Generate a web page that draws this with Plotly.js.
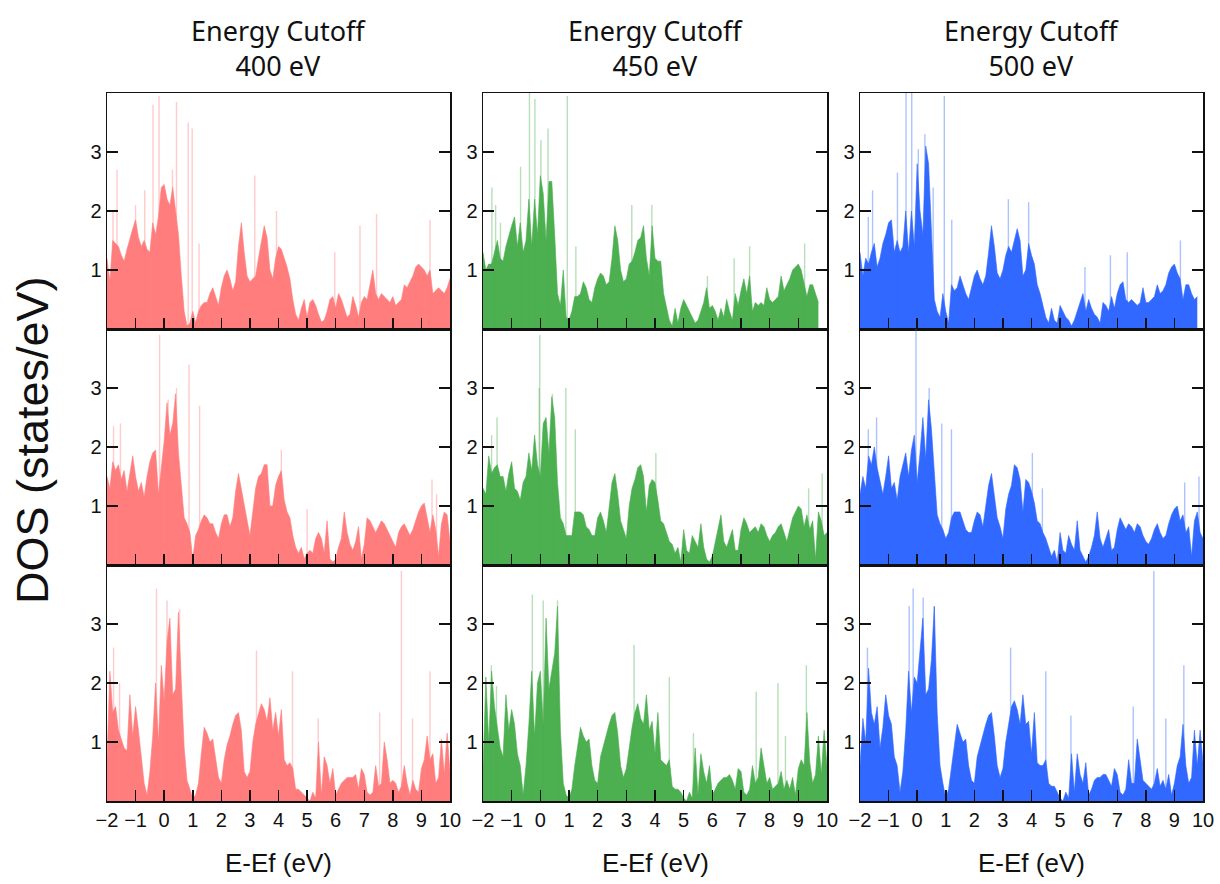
<!DOCTYPE html>
<html>
<head>
<meta charset="utf-8">
<script src="https://cdn.plot.ly/plotly-3.0.1.min.js"></script>
<style>html,body{margin:0;padding:0;background:#fff;}#chart{width:1220px;height:884px;}</style>
</head>
<body>
<div id="chart"></div>
<script>
// Energy grid (E - Ef, eV)
const energy = [-2.0,-1.9,-1.8,-1.7,-1.6,-1.5,-1.4,-1.3,-1.2,-1.1,
  -1.0,-0.9,-0.8,-0.7,-0.6,-0.5,-0.4,-0.3,-0.2,-0.1,
  0.0,0.1,0.2,0.3,0.4,0.5,0.6,0.7,0.8,0.9,
  1.0,1.1,1.2,1.3,1.4,1.5,1.6,1.7,1.8,1.9,
  2.0,2.1,2.2,2.3,2.4,2.5,2.6,2.7,2.8,2.9,
  3.0,3.1,3.2,3.3,3.4,3.5,3.6,3.7,3.8,3.9,
  4.0,4.1,4.2,4.3,4.4,4.5,4.6,4.7,4.8,4.9,
  5.0,5.1,5.2,5.3,5.4,5.5,5.6,5.7,5.8,5.9,
  6.0,6.1,6.2,6.3,6.4,6.5,6.6,6.7,6.8,6.9,
  7.0,7.1,7.2,7.3,7.4,7.5,7.6,7.7,7.8,7.9,
  8.0,8.1,8.2,8.3,8.4,8.5,8.6,8.7,8.8,8.9,
  9.0,9.1,9.2,9.3,9.4,9.5,9.6,9.7,9.8,9.9,
  10.0];

const cutoffs = ["400 eV", "450 eV", "500 eV"];
const xTickVals = [-2,-1,0,1,2,3,4,5,6,7,8,9,10];
const yTickVals = [1,2,3];

// Row 1
const dos_r1_400 = [1.2,0.8,1.5,1.45,1.4,1.25,1.15,1.35,1.55,1.7,
  1.85,1.55,1.4,1.5,1.35,1.3,1.8,1.6,1.9,2.4,
  2.45,2.2,2.1,2.4,2.0,1.6,0.9,0.3,0.05,0.1,
  0.3,0.1,0.3,0.4,0.45,0.45,0.6,0.7,0.55,0.4,
  0.7,0.9,1.0,0.85,0.65,0.8,1.4,1.8,1.3,0.9,
  0.8,0.85,0.9,1.2,1.5,1.75,1.55,1.0,0.85,1.2,
  1.4,1.35,1.2,1.05,0.85,0.5,0.25,0.15,0.35,0.5,
  0.2,0.45,0.5,0.4,0.25,0.12,0.15,0.3,0.5,0.55,
  0.35,0.6,0.5,0.35,0.2,0.25,0.55,0.4,0.2,0.45,
  0.55,0.5,0.75,1.0,0.6,0.5,0.6,0.55,0.5,0.45,
  0.55,0.4,0.45,0.5,0.75,0.7,0.8,0.9,1.05,1.1,
  1.05,1.0,0.9,1.0,0.6,0.65,0.7,0.65,0.6,0.7,
  0.85];
const dos_r1_450 = [1.3,1.0,1.1,1.1,1.3,1.5,1.2,1.15,1.4,1.6,
  1.75,1.9,1.4,1.8,1.3,1.5,2.2,1.4,2.2,1.6,
  2.6,2.3,1.5,2.5,2.5,1.6,0.6,0.4,1.0,0.2,
  0.15,0.3,0.55,0.55,0.6,0.8,0.7,0.5,0.45,0.7,
  0.85,0.95,0.9,0.75,0.8,1.2,1.75,1.5,1.0,0.8,
  0.85,1.1,1.15,1.3,1.5,1.55,1.75,1.2,0.9,1.75,
  1.2,1.15,1.15,0.6,0.35,0.15,0.05,0.35,0.1,0.35,
  0.5,0.4,0.3,0.2,0.1,0.15,0.3,0.45,0.7,0.35,
  0.4,0.3,0.15,0.35,0.2,0.5,0.3,0.15,0.6,0.4,
  0.65,0.85,0.6,0.9,0.3,0.45,0.4,0.45,0.4,0.7,
  0.5,0.45,0.5,0.55,0.9,0.65,0.75,0.85,1.0,1.05,
  1.1,1.0,0.75,0.55,0.75,0.75,0.6,0.45];
const dos_r1_500 = [1.3,0.9,1.2,1.1,1.3,1.45,1.05,1.2,1.45,1.6,
  1.8,1.85,1.3,1.5,1.3,1.4,2.0,1.3,2.0,1.4,
  2.8,2.0,1.6,3.1,2.8,1.6,0.5,0.3,0.2,0.6,
  0.3,0.1,0.75,0.65,0.7,0.9,0.75,0.6,0.5,0.7,
  0.9,1.0,0.85,0.75,0.9,1.3,1.75,1.4,0.95,0.85,
  1.0,1.25,1.4,1.3,1.5,1.7,1.5,0.9,1.0,1.45,
  1.25,1.1,0.75,0.6,0.4,0.2,0.1,0.35,0.15,0.1,
  0.4,0.3,0.2,0.15,0.05,0.15,0.3,0.45,0.6,0.3,
  0.5,0.35,0.25,0.2,0.1,0.45,0.4,0.3,0.55,0.35,
  0.6,0.75,0.8,0.5,0.45,0.5,0.45,0.4,0.45,0.7,
  0.45,0.45,0.5,0.55,0.75,0.6,0.65,0.75,0.95,1.05,
  1.1,0.95,0.85,0.5,0.75,0.75,0.6,0.5,0.55];

// Row 2
const dos_r2_400 = [1.5,1.3,1.75,1.6,1.7,1.45,1.6,1.25,1.55,1.85,
  1.5,1.25,1.4,1.15,1.5,1.75,1.9,1.95,1.2,1.6,
  2.1,2.75,2.2,2.4,2.9,1.9,1.4,0.8,0.7,0.55,
  0.1,0.5,0.6,0.75,0.85,0.8,0.7,0.7,0.55,0.45,
  0.7,0.85,0.85,0.65,0.8,1.25,1.55,1.3,1.0,0.8,
  0.5,0.9,1.3,1.5,1.55,1.7,1.7,1.0,1.0,1.35,
  1.5,1.6,1.1,0.9,0.8,0.5,0.3,0.2,0.3,0.1,
  0.2,0.25,0.2,0.45,0.55,0.45,0.2,0.75,0.1,0.05,
  0.1,0.3,0.45,0.9,0.55,0.35,0.25,0.4,0.65,0.1,
  0.35,0.8,0.75,0.65,0.55,0.65,0.75,0.7,0.6,0.5,
  0.4,0.3,0.55,0.65,0.7,0.6,0.5,0.6,0.75,0.9,
  1.0,1.05,0.8,0.55,0.85,0.6,0.15,0.7,0.9,0.85,
  0.4];
const dos_r2_450 = [1.3,1.2,1.85,1.55,1.65,1.7,1.5,1.5,1.25,1.55,
  1.75,1.3,1.25,1.1,1.4,1.5,1.9,1.6,2.2,1.7,
  1.5,2.4,2.5,1.9,2.85,2.5,1.4,0.8,0.7,0.5,
  0.5,0.5,0.9,0.9,0.9,0.85,0.65,0.6,0.5,0.5,
  0.8,0.9,0.75,0.55,1.0,1.4,1.55,1.2,0.75,0.6,
  0.45,1.0,1.3,1.45,1.65,1.7,1.5,0.9,1.35,1.45,
  1.4,1.1,0.75,0.7,0.55,0.4,0.35,0.2,0.3,0.05,
  0.6,0.25,0.2,0.5,0.4,0.3,0.7,0.3,0.1,0.05,
  0.15,0.4,0.6,0.85,0.4,0.3,0.45,0.6,0.25,0.25,
  0.6,0.8,0.7,0.55,0.6,0.65,0.55,0.7,0.65,0.5,
  0.4,0.5,0.55,0.65,0.7,0.55,0.4,0.6,0.8,0.9,
  1.0,0.95,0.65,0.85,0.6,0.75,0.1,0.9,0.75,0.5,
  0.55];
const dos_r2_500 = [1.2,1.5,1.3,1.85,1.7,2.0,1.65,1.45,1.2,1.5,
  1.85,1.3,1.4,1.1,1.5,1.7,1.9,1.5,1.95,2.2,
  1.4,1.9,2.5,1.8,2.8,2.3,1.5,0.85,0.7,0.6,
  0.45,0.55,0.8,0.9,0.9,0.9,0.75,0.6,0.55,0.55,
  0.75,0.9,0.85,0.65,1.0,1.35,1.55,1.2,0.8,0.65,
  0.45,0.95,1.2,1.35,1.7,1.65,1.45,0.9,1.45,1.4,
  1.25,1.05,0.75,0.7,0.55,0.45,0.3,0.15,0.25,0.05,
  0.55,0.25,0.2,0.5,0.35,0.25,0.75,0.25,0.15,0.05,
  0.15,0.3,0.5,0.9,0.45,0.3,0.45,0.6,0.25,0.3,
  0.6,0.8,0.7,0.6,0.7,0.65,0.55,0.7,0.65,0.5,
  0.4,0.35,0.45,0.6,0.7,0.55,0.45,0.5,0.7,0.85,
  0.95,1.0,0.75,0.85,0.55,0.65,0.15,0.75,0.9,0.55,
  0.45];

// Row 3
const dos_r3_400 = [0.7,2.2,1.5,1.6,1.2,1.05,0.9,0.85,1.8,1.1,
  1.6,1.2,0.7,0.3,0.1,0.5,1.1,2.0,1.0,2.3,
  1.7,2.7,3.1,1.8,1.9,3.2,2.0,0.9,0.35,0.2,
  0.05,0.1,0.3,0.8,1.25,1.15,1.0,1.05,0.75,0.4,
  0.3,0.7,0.95,1.1,1.3,1.45,1.5,1.2,0.5,0.4,
  0.5,1.0,1.3,1.5,1.65,1.55,1.35,1.75,1.2,1.5,
  1.1,1.55,0.7,0.6,0.65,0.55,0.2,0.2,0.15,0.1,
  0.05,0.0,0.15,0.05,1.0,0.1,0.75,0.6,0.3,0.55,
  0.1,0.2,0.3,0.35,0.4,0.4,0.4,0.45,0.2,0.55,
  0.45,0.15,0.1,0.15,0.6,0.25,0.3,1.0,0.7,0.3,
  0.35,0.3,0.15,0.25,0.6,0.3,0.1,0.35,0.2,0.15,
  0.55,0.7,1.1,0.7,0.8,0.3,0.4,1.05,0.45,1.15,
  0.5];
const dos_r3_450 = [0.55,2.1,1.0,2.2,1.6,1.2,0.9,0.75,1.8,1.2,
  1.55,1.3,0.8,0.6,0.1,0.6,1.3,2.2,1.1,2.0,
  2.2,1.3,3.1,1.9,2.2,2.5,3.3,1.2,0.3,0.1,
  0.05,0.2,0.6,0.9,1.25,1.1,1.0,1.05,0.6,0.35,
  0.3,0.75,0.95,1.1,1.3,1.45,1.5,1.15,0.6,0.4,
  0.55,0.9,1.25,1.5,1.65,1.4,1.3,1.8,1.2,1.35,
  0.8,1.5,0.7,0.65,0.6,0.7,0.25,0.2,0.2,0.15,
  0.05,0.0,0.15,0.05,0.9,0.1,0.8,0.5,0.3,0.6,
  0.1,0.2,0.3,0.35,0.4,0.4,0.45,0.35,0.2,0.55,
  0.5,0.15,0.1,0.2,0.6,0.3,0.4,0.9,0.6,0.3,
  0.4,0.2,0.25,0.3,0.5,0.2,0.35,0.2,0.4,0.1,
  0.55,0.7,0.6,1.5,0.65,0.3,0.45,1.1,0.45,1.2,
  0.6];
const dos_r3_500 = [0.6,1.4,1.0,2.25,1.5,1.3,1.6,0.9,1.25,1.8,
  1.45,1.3,0.75,0.6,0.15,0.5,1.2,2.2,1.5,2.1,
  2.0,2.5,3.1,1.8,1.9,2.4,3.3,1.5,0.6,0.3,
  0.05,0.2,0.6,0.9,1.3,1.15,1.0,1.05,0.6,0.35,
  0.3,0.75,0.95,1.1,1.3,1.45,1.5,1.1,0.6,0.4,
  0.55,1.0,1.3,1.6,1.7,1.55,1.3,1.8,1.3,1.35,
  0.8,1.5,0.65,0.6,0.6,0.7,0.3,0.25,0.25,0.15,
  0.05,0.0,0.15,0.05,0.8,0.15,0.8,0.45,0.3,0.65,
  0.1,0.2,0.35,0.4,0.4,0.45,0.45,0.35,0.25,0.55,
  0.45,0.15,0.1,0.2,0.7,0.3,0.3,1.05,0.7,0.35,
  0.3,0.25,0.2,0.3,0.55,0.25,0.35,0.2,0.45,0.1,
  0.3,0.6,0.75,1.3,0.6,0.3,0.4,1.2,0.6,1.2,
  0.65];

// Sharp peaks (energy, DOS height)
const peakE_r1_400 = [-1.79,-1.65,-1.0,-0.68,-0.39,-0.18,0.29,0.43,0.84,0.98,1.22,3.17,3.93,5.97,6.85,7.43,9.3];
const peakH_r1_400 = [2.0,2.7,2.1,2.35,3.8,3.95,2.7,3.85,3.5,3.4,1.45,2.6,2.0,1.3,1.75,1.95,1.85];
const peakE_r1_450 = [-1.69,-1.56,-1.39,-0.69,-0.38,-0.19,0.02,0.27,0.94,1.24,3.19,3.89,5.83,6.76,7.3,9.22];
const peakH_r1_450 = [2.4,2.1,1.8,2.75,4.0,3.9,3.2,3.4,3.95,1.4,2.1,2.1,0.9,1.2,1.4,1.45];
const peakE_r1_500 = [-1.71,-1.56,-0.69,-0.39,-0.19,0.04,0.27,0.56,0.95,1.21,3.19,3.9,5.87,6.76,7.35,9.21];
const peakH_r1_500 = [1.9,2.35,2.65,4.0,4.0,3.05,3.3,2.4,3.95,1.85,2.2,2.15,1.05,1.25,1.3,1.5];

const peakE_r2_400 = [-1.77,-1.53,-0.16,0.14,0.43,0.87,1.24,4.1,5.0,9.37,9.53];
const peakH_r2_400 = [2.35,2.4,3.9,2.8,3.0,3.4,2.7,1.95,0.95,1.45,1.2];
const peakE_r2_450 = [-1.7,-1.51,-0.04,-0.02,0.42,0.89,1.22,4.03,9.36,9.83];
const peakH_r2_450 = [2.2,2.5,3.0,3.9,2.9,3.0,2.3,1.9,1.3,1.55];
const peakE_r2_500 = [-1.71,-1.42,-0.04,0.42,0.86,1.2,4.03,4.38,9.36,9.86];
const peakH_r2_500 = [2.3,2.5,4.0,3.0,2.4,2.3,1.9,1.3,1.4,1.5];

const peakE_r3_400 = [-1.77,-1.56,-0.27,0.1,0.54,3.23,4.49,5.39,7.54,8.3,8.69,9.3];
const peakH_r3_400 = [2.6,2.0,3.6,3.4,3.25,2.55,2.2,1.4,1.5,3.9,1.4,2.2];
const peakE_r3_450 = [-1.71,-1.53,-0.28,0.1,0.6,3.27,4.5,5.34,7.53,8.29,8.55,9.28];
const peakH_r3_450 = [2.3,1.95,3.5,3.4,3.4,2.65,2.1,1.15,1.85,2.0,1.1,2.3];
const peakE_r3_500 = [-1.74,-0.28,-0.14,0.21,0.6,3.27,4.5,5.38,7.56,8.28,8.7,9.33];
const peakH_r3_500 = [2.6,3.3,3.6,3.45,3.3,2.6,2.2,1.45,1.6,3.9,1.4,2.3];

const panels = [
  [dos_r1_400, peakE_r1_400, peakH_r1_400], [dos_r1_450, peakE_r1_450, peakH_r1_450], [dos_r1_500, peakE_r1_500, peakH_r1_500],
  [dos_r2_400, peakE_r2_400, peakH_r2_400], [dos_r2_450, peakE_r2_450, peakH_r2_450], [dos_r2_500, peakE_r2_500, peakH_r2_500],
  [dos_r3_400, peakE_r3_400, peakH_r3_400], [dos_r3_450, peakE_r3_450, peakH_r3_450], [dos_r3_500, peakE_r3_500, peakH_r3_500]
];

const fillColors = ["#ff7d7d", "#4caf50", "#3168ff"];
const peakColors = ["rgba(255,125,125,0.4)", "rgba(76,175,80,0.4)", "rgba(49,104,255,0.4)"];

// Panel layout (pixels)
const W = 1220, H = 884;
const colX = [[107,450],[483,827],[860,1203]];
const rowY = [[93,329],[329,565],[565,801]];

const traces = [];
const layout = {
  width: W, height: H,
  margin: {l:0, r:0, t:0, b:0},
  paper_bgcolor: "#ffffff", plot_bgcolor: "#ffffff",
  showlegend: false,
  annotations: []
};

const tickFont = {family: "Liberation Sans, Arial, sans-serif", size: 20, color: "#111"};

for (let r = 0; r < 3; r++) {
  for (let c = 0; c < 3; c++) {
    const k = r*3 + c + 1;
    const xa = "x" + (k === 1 ? "" : k), ya = "y" + (k === 1 ? "" : k);
    const [dos, pe, ph] = panels[k-1];
    traces.push({
      type: "scatter", mode: "lines",
      x: energy.slice(0, dos.length), y: dos,
      fill: "tozeroy", fillcolor: fillColors[c],
      line: {color: fillColors[c], width: 0.6},
      xaxis: xa, yaxis: ya, hoverinfo: "skip"
    });
    const sx = [], sy = [];
    pe.forEach((e, i) => { sx.push(e, e, null); sy.push(0, ph[i], null); });
    traces.push({
      type: "scatter", mode: "lines", x: sx, y: sy,
      line: {color: peakColors[c], width: 1.4},
      xaxis: xa, yaxis: ya, hoverinfo: "skip"
    });
    const xKey = "xaxis" + (k === 1 ? "" : k), yKey = "yaxis" + (k === 1 ? "" : k);
    layout[xKey] = {
      domain: [colX[c][0]/W, colX[c][1]/W],
      anchor: ya, range: [-2, 10], tickvals: xTickVals,
      ticks: "inside", ticklen: 11, tickwidth: 1.5, tickcolor: "#111",
      showline: true, linecolor: "#111", linewidth: 1.5, mirror: true,
      showgrid: false, zeroline: false,
      showticklabels: r === 2, tickfont: tickFont
    };
    layout[yKey] = {
      domain: [1 - rowY[r][1]/H, 1 - rowY[r][0]/H],
      anchor: xa, range: [0, 4], tickvals: yTickVals,
      ticks: "inside", ticklen: 11, tickwidth: 1.5, tickcolor: "#111",
      showline: true, linecolor: "#111", linewidth: 1.5, mirror: "ticks",
      showgrid: false, zeroline: false,
      showticklabels: true, tickfont: tickFont
    };
  }
}

for (let c = 0; c < 3; c++) {
  const cx = (colX[c][0] + colX[c][1]) / 2 / W;
  layout.annotations.push({
    text: "Energy Cutoff<br>" + cutoffs[c], xref: "paper", yref: "paper",
    x: cx, y: 1 - 48/H, xanchor: "center", yanchor: "middle", showarrow: false,
    font: {family: "Noto Sans, Liberation Sans, sans-serif", size: 27, color: "#111"}
  });
  layout.annotations.push({
    text: "E-Ef (eV)", xref: "paper", yref: "paper",
    x: cx, y: 1 - 863/H, xanchor: "center", yanchor: "middle", showarrow: false,
    font: {family: "Liberation Sans, Arial, sans-serif", size: 26, color: "#111"}
  });
}
layout.annotations.push({
  text: "DOS (states/eV)", xref: "paper", yref: "paper",
  x: 32/W, y: 1 - 440/H, xanchor: "center", yanchor: "middle", showarrow: false,
  textangle: -90,
  font: {family: "Liberation Sans, Arial, sans-serif", size: 45, color: "#111"}
});

Plotly.newPlot("chart", traces, layout, {staticPlot: true, displayModeBar: false});
</script>
</body>
</html>
